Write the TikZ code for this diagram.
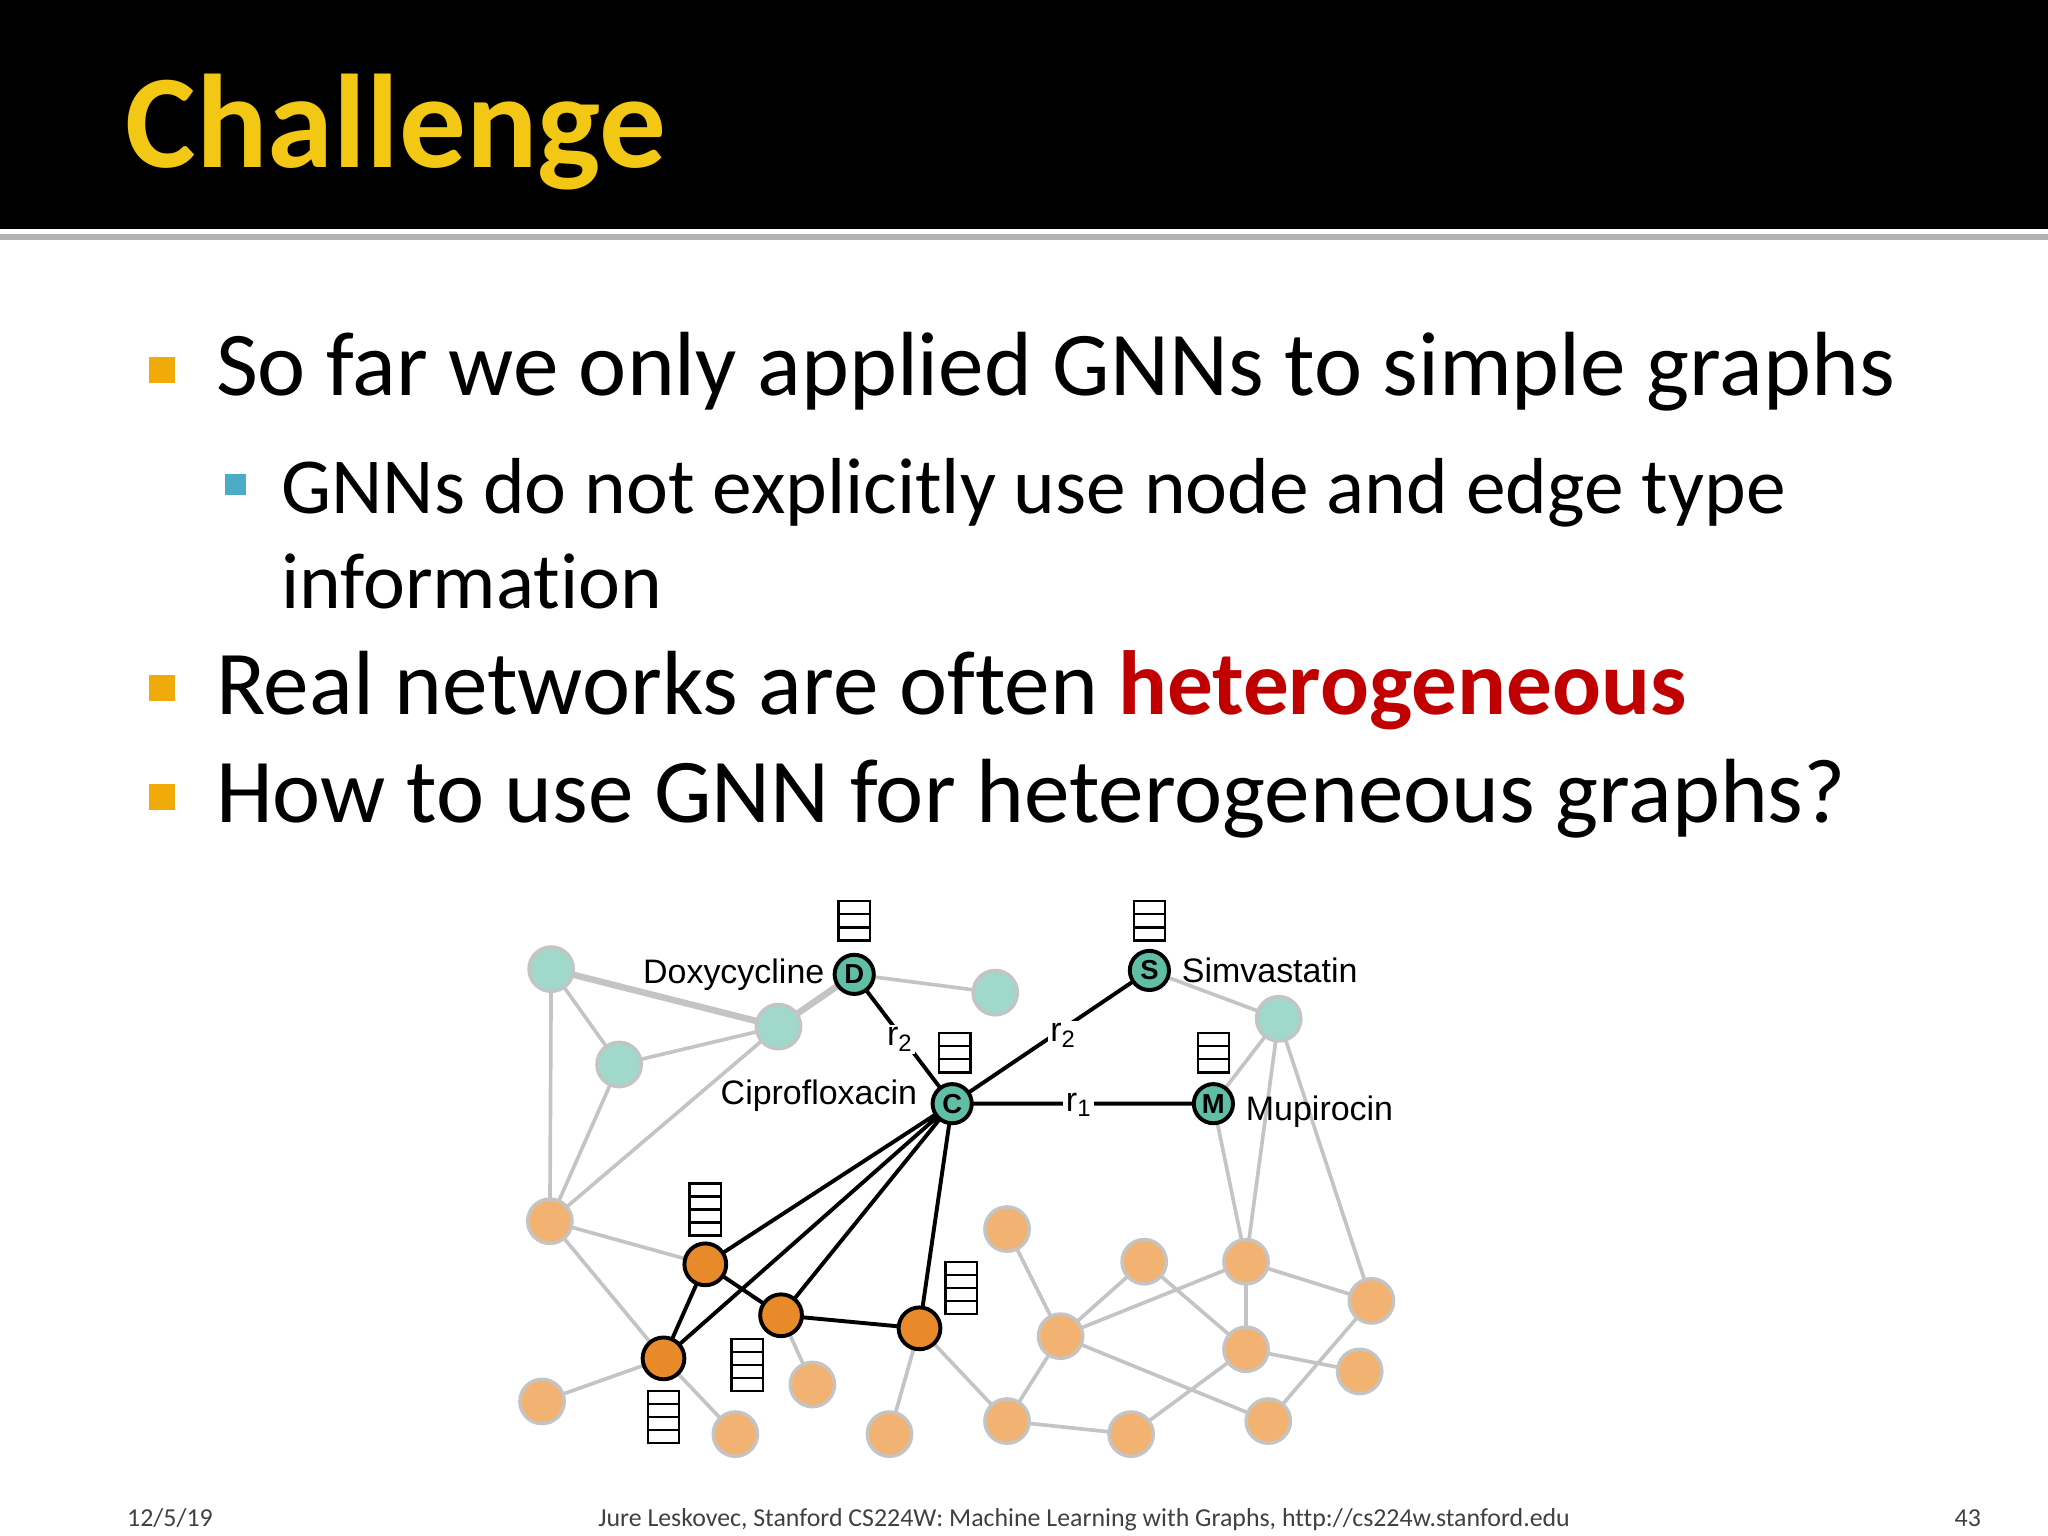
\documentclass[tikz,border=0pt]{standalone}
\usepackage{fontspec}
\setmainfont{Carlito}[RawFeature=-liga]
\newfontfamily\arialf{Liberation Sans}
\definecolor{ttl}{RGB}{242,200,20}
\definecolor{bul}{RGB}{240,170,10}
\definecolor{sbul}{RGB}{75,172,198}
\definecolor{hred}{RGB}{192,0,0}
\definecolor{tl}{RGB}{160,216,204}
\definecolor{td}{RGB}{95,190,164}
\definecolor{ol}{RGB}{242,178,114}
\definecolor{od}{RGB}{232,138,42}
\definecolor{eg}{RGB}{196,196,196}
\newcommand\vecbox[3]{%
  \foreach \k in {1,...,#3}{\draw[line width=0.9pt,fill=white] (#1-12,#2-5*#3+10*\k-10) rectangle (#1+12,#2-5*#3+10*\k);}}
\begin{document}
\begin{tikzpicture}[x=0.5pt,y=-0.5pt,
  lt/.style={circle,inner sep=0pt,minimum size=17pt,fill=tl,draw=eg,line width=1.3pt},
  lo/.style={circle,inner sep=0pt,minimum size=17pt,fill=ol,draw=eg,line width=1.3pt},
  dt/.style={circle,inner sep=0pt,minimum size=15pt,fill=td,draw=black,line width=1.5pt,font=\arialf\bfseries\fontsize{10.5}{11}\selectfont},
  dob/.style={circle,inner sep=0pt,minimum size=16pt,fill=od,draw=black,line width=1.5pt},
  ge/.style={draw=eg,line width=1.4pt},
  be/.style={draw=black,line width=1.5pt},
  lab/.style={font=\arialf\fontsize{13}{13}\selectfont,inner sep=1pt},
  bt/.style={anchor=base west,font=\fontsize{34.9}{40}\selectfont,inner sep=0pt},
  st/.style={anchor=base west,font=\fontsize{30.4}{36}\selectfont,inner sep=0pt}]
\useasboundingbox (0,0) rectangle (1568,1176);
\fill[black] (0,0) rectangle (1568,175);
\fill[gray!60] (0,179) rectangle (1568,184);
\node[anchor=base west,inner sep=0pt,text=ttl,font=\bfseries\fontsize{51}{55}\selectfont] (title) at (96,128) {Challenge};
% bullets
\fill[bul] (114,273) rectangle (134,293);
\node[bt] (b1) at (165,303) {So far we only applied GNNs to simple graphs};
\fill[sbul] (172,363) rectangle (188,379);
\node[st] (b2) at (215,393) {GNNs do not explicitly use node and edge type};
\node[st] (b2b) at (215,466) {information};
\fill[bul] (114,517) rectangle (134,537);
\node[bt] (b3) at (165,547) {Real networks are often \textcolor{hred}{\bfseries heterogeneous}};
\fill[bul] (114,600) rectangle (134,620);
\node[bt] (b4) at (165,630) {How to use GNN for heterogeneous graphs?};
% footer
\node[anchor=base west,inner sep=0pt,font=\fontsize{9.9}{10}\selectfont,text=black!75] (f1) at (97,1169) {12/5/19};
\node[anchor=base,inner sep=0pt,font=\fontsize{9.9}{10}\selectfont,text=black!75] (f2) at (830,1169) {Jure Leskovec, Stanford CS224W: Machine Learning with Graphs, http://cs224w.stanford.edu};
\node[anchor=base east,inner sep=0pt,font=\fontsize{9.9}{10}\selectfont,text=black!75] (f3) at (1517,1169) {43};
% coordinates for edges
\foreach \n/\p in {t1/{422,742},t2/{474,815},t3/{596,786},t4/{762,760},t5/{979,780},
  o1/{421,935},o2/{415,1073},o3/{563,1098},o4/{622,1060},o5/{681,1098},o6/{771,941},o7/{876,966},
  o8/{812,1023},o9/{954,966},o10/{954,1033},o11/{1050,996},o12/{1041,1050},o13/{771,1088},
  o14/{866,1098},o15/{971,1088},D/{654,746},S/{880,743},C/{729,845},M/{929,845},
  A/{540,968},B/{598,1007},E/{704,1017},F/{508,1040}}{\coordinate (\n) at (\p);}
% gray edges
\path[ge] (t1)--(t2) (t1)--(o1) (t2)--(t3) (t2)--(o1) (t3)--(o1)
  (t4)--(D) (t5)--(M) (t5)--(o9) (t5)--(o11) (S)--(t5) (M)--(o9)
  (o1)--(A) (o1)--(F) (F)--(o2) (F)--(o3) (B)--(o4)
  (E)--(o5) (E)--(o13) (o6)--(o8) (o8)--(o13) (o8)--(o9) (o8)--(o7) (o8)--(o15)
  (o7)--(o10) (o9)--(o10) (o9)--(o11) (o10)--(o12) (o10)--(o14) (o11)--(o15) (o13)--(o14);
\path[draw=eg,line width=2.5pt] (t1)--(t3) (t3)--(D);
% black edges
\path[be] (D)--(C) (S)--(C) (C)--(M) (C)--(A) (C)--(F) (C)--(B) (C)--(E) (A)--(B) (A)--(F) (B)--(E);
% light nodes
\foreach \n in {t1,t2,t3,t4,t5}{\node[lt] (n\n) at (\n) {};}
\foreach \n in {o1,o2,o3,o4,o5,o6,o7,o8,o9,o10,o11,o12,o13,o14,o15}{\node[lo] (n\n) at (\n) {};}
% dark nodes
\node[dt] (nD) at (D) {D};
\node[dt] (nS) at (S) {S};
\node[dt] (nC) at (C) {C};
\node[dt] (nM) at (M) {M};
\node[dob] (nA) at (A) {};
\node[dob] (nB) at (B) {};
\node[dob] (nE) at (E) {};
\node[dob] (nF) at (F) {};
\node[lab,fill=white] (r2a) at (689,796) {r\textsubscript{2}};
\node[lab,fill=white] (r2b) at (814,793) {r\textsubscript{2}};
\node[lab,fill=white] (r1) at (826,846) {r\textsubscript{1}};
\node[lab,anchor=east] (lD) at ([xshift=-2pt]nD.west) {Doxycycline};
\node[lab,anchor=west] (lS) at ([xshift=3pt]nS.east) {Simvastatin};
\node[lab,anchor=east] (lC) at ([xshift=-4pt,yshift=3pt]nC.west) {Ciprofloxacin};
\node[lab,anchor=west] (lM) at ([xshift=3pt,yshift=-3pt]nM.east) {Mupirocin};
% vectors
\vecbox{654}{705}{3}
\vecbox{880}{705}{3}
\vecbox{731}{806}{3}
\vecbox{929}{806}{3}
\vecbox{540}{926}{4}
\vecbox{736}{986}{4}
\vecbox{572}{1045}{4}
\vecbox{508}{1085}{4}
\end{tikzpicture}
\end{document}
